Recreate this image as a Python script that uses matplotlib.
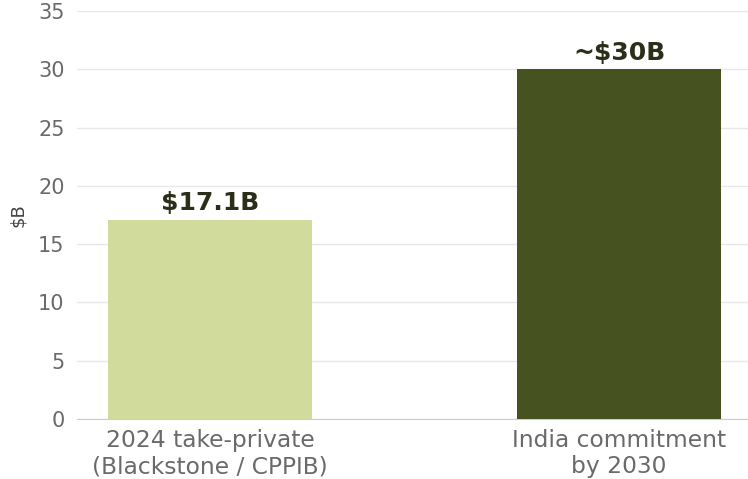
import matplotlib.pyplot as plt

categories = ["2024 take-private\n(Blackstone / CPPIB)", "India commitment\nby 2030"]
values = [17.1, 30]
labels = ["$17.1B", "~$30B"]
colors = ["#d1db9b", "#46521f"]

fig = plt.figure(figsize=(7.48, 4.79), dpi=100)
ax = fig.add_axes([77 / 748, 60 / 479, 675 / 748, 408 / 479])

x = range(len(categories))
bars = ax.bar(x, values, width=0.5, color=colors, zorder=3)

for bar, lab in zip(bars, labels):
    ax.annotate(lab, (bar.get_x() + bar.get_width() / 2, bar.get_height()),
                xytext=(0, 3), textcoords="offset points",
                ha="center", va="bottom", fontsize=18, fontweight="bold",
                color="#2b2f1a")

ax.set_xticks(list(x))
ax.set_xticklabels(categories, fontsize=16.8, color="#6a6a6a", linespacing=1.2)
ax.set_ylim(0, 35)
ax.set_xlim(-0.325, 1.325)
ax.set_yticks(range(0, 36, 5))
ax.tick_params(axis="y", labelsize=15, labelcolor="#6a6a6a", length=0, pad=9)
ax.tick_params(axis="x", length=0, pad=7)
ax.set_ylabel("$B", fontsize=13, color="#444444", labelpad=8)

ax.grid(axis="y", color="#e8e8e8", linewidth=1, zorder=0)
for side in ["top", "right", "left"]:
    ax.spines[side].set_visible(False)
ax.spines["bottom"].set_color("#cccccc")

fig.savefig("out.png", dpi=100)
